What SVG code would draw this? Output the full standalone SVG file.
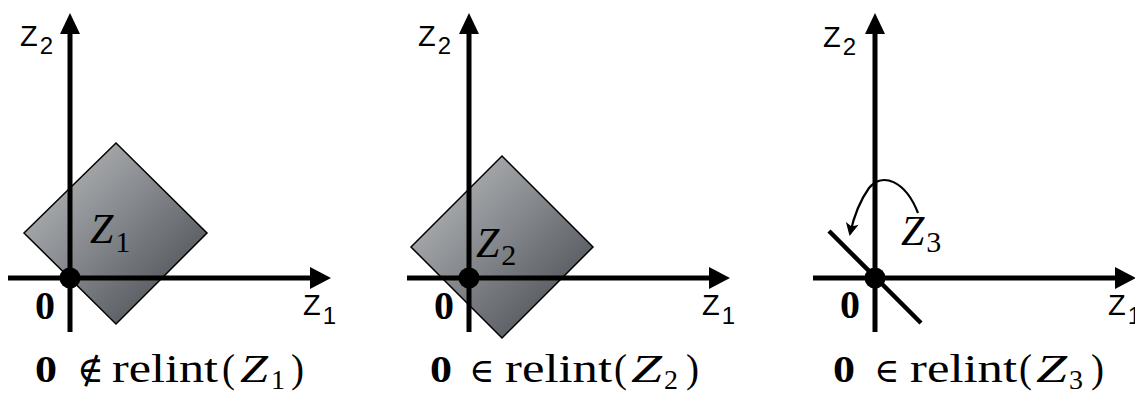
<svg xmlns="http://www.w3.org/2000/svg" width="1135" height="400" viewBox="0 0 1135 400">
<defs>
<linearGradient id="g" x1="0" y1="0" x2="1" y2="1">
<stop offset="0" stop-color="#c2c4c6"/>
<stop offset="1" stop-color="#3e4249"/>
</linearGradient>
<marker id="ah" viewBox="0 0 12 12" refX="10" refY="6" markerWidth="14" markerHeight="13" markerUnits="userSpaceOnUse" orient="auto">
<path d="M0,0 L12,6 L0,12 L3,6 z" fill="#000"/>
</marker>
</defs>
<style>
.ax{stroke:#000;stroke-width:5;fill:none}
.tip{fill:#000}
.dia{fill:url(#g);stroke:#000;stroke-width:1.5}
.sans{font-family:"Liberation Sans","DejaVu Sans",sans-serif;fill:#000}
.ser{font-family:"Liberation Serif","DejaVu Serif",serif;fill:#000}
.b{font-weight:bold}
.it{font-style:italic}
.dot{fill:#000}
</style>

<!-- Panel 1 -->
<g id="panel1">
<polygon id="set1" class="dia" points="116,143 207,233 116,324 24,233"/>
<g id="axes1">
<line class="ax" x1="70" y1="332" x2="70" y2="30"/>
<polygon class="tip" points="70,13 60,34 80,34"/>
<line class="ax" x1="8" y1="278" x2="312" y2="278"/>
<polygon class="tip" points="331,278 310,267 310,289"/>
</g>
<circle id="origin1" class="dot" cx="70" cy="278" r="10.5"/>
<text class="sans" x="20" y="46" font-size="29">Z<tspan font-size="24" dx="2" dy="8">2</tspan></text>
<text class="sans" x="303" y="315" font-size="29">Z<tspan font-size="24" dx="2" dy="9">1</tspan></text>
<text class="ser b" x="35" y="319" font-size="40">0</text>
<text class="ser" x="90" y="243" font-size="42"><tspan class="it">Z</tspan><tspan font-size="30" dx="2" dy="9">1</tspan></text>
<g id="caption1">
<text class="ser b" x="35" y="382" font-size="38" textLength="22" lengthAdjust="spacingAndGlyphs">0</text>
<text class="ser" x="77" y="382" font-size="36">∉</text>
<text class="ser" x="112" y="382" font-size="39" textLength="106" lengthAdjust="spacingAndGlyphs">relint</text>
<text class="ser" x="222" y="382" font-size="39">(</text>
<text class="ser it" x="240" y="382" font-size="39" textLength="28" lengthAdjust="spacingAndGlyphs">Z</text>
<text class="ser" x="271" y="389" font-size="28">1</text>
<text class="ser" x="291" y="382" font-size="39">)</text>
</g>
</g>

<!-- Panel 2 -->
<g id="panel2">
<polygon id="set2" class="dia" points="502,156 593,247 502,338 411,247"/>
<g id="axes2">
<line class="ax" x1="469" y1="332" x2="469" y2="30"/>
<polygon class="tip" points="469,13 459,34 479,34"/>
<line class="ax" x1="407" y1="278" x2="711" y2="278"/>
<polygon class="tip" points="730,278 709,267 709,289"/>
</g>
<circle id="origin2" class="dot" cx="469" cy="278" r="10.5"/>
<text class="sans" x="418" y="46" font-size="29">Z<tspan font-size="24" dx="2" dy="8">2</tspan></text>
<text class="sans" x="702" y="315" font-size="29">Z<tspan font-size="24" dx="2" dy="9">1</tspan></text>
<text class="ser b" x="434" y="319" font-size="40">0</text>
<text class="ser" x="476" y="257" font-size="42"><tspan class="it">Z</tspan><tspan font-size="30" dx="2" dy="8">2</tspan></text>
<g id="caption2">
<text class="ser b" x="430" y="382" font-size="38" textLength="22" lengthAdjust="spacingAndGlyphs">0</text>
<text class="ser" x="469" y="382" font-size="34">∈</text>
<text class="ser" x="505" y="382" font-size="39" textLength="107" lengthAdjust="spacingAndGlyphs">relint</text>
<text class="ser" x="614" y="382" font-size="39">(</text>
<text class="ser it" x="631" y="382" font-size="39" textLength="31" lengthAdjust="spacingAndGlyphs">Z</text>
<text class="ser" x="664" y="389" font-size="28">2</text>
<text class="ser" x="686" y="382" font-size="39">)</text>
</g>
</g>

<!-- Panel 3 -->
<g id="panel3">
<line id="set3" x1="829" y1="231" x2="921" y2="323" stroke="#000" stroke-width="4.5"/>
<g id="axes3">
<line class="ax" x1="875" y1="332" x2="875" y2="30"/>
<polygon class="tip" points="875,13 865,34 885,34"/>
<line class="ax" x1="813" y1="278" x2="1117" y2="278"/>
<polygon class="tip" points="1136,278 1115,267 1115,289"/>
</g>
<circle id="origin3" class="dot" cx="875" cy="278" r="10.5"/>
<text class="sans" x="823" y="47" font-size="29">Z<tspan font-size="24" dx="2" dy="8">2</tspan></text>
<text class="sans" x="1108" y="315" font-size="29">Z<tspan font-size="24" dx="2" dy="9">1</tspan></text>
<text class="ser b" x="840" y="318" font-size="40">0</text>
<text class="ser" x="901" y="245" font-size="42"><tspan class="it">Z</tspan><tspan font-size="30" dx="2" dy="7">3</tspan></text>
<g id="connectors">
<path d="M918,213 C905,180 882,172 869,188 C859,202 853,220 850,234" fill="none" stroke="#000" stroke-width="2.2" marker-end="url(#ah)"/>
</g>
<g id="caption3">
<text class="ser b" x="833" y="382" font-size="38" textLength="22" lengthAdjust="spacingAndGlyphs">0</text>
<text class="ser" x="874" y="382" font-size="34">∈</text>
<text class="ser" x="910" y="382" font-size="39" textLength="107" lengthAdjust="spacingAndGlyphs">relint</text>
<text class="ser" x="1019" y="382" font-size="39">(</text>
<text class="ser it" x="1036" y="382" font-size="39" textLength="31" lengthAdjust="spacingAndGlyphs">Z</text>
<text class="ser" x="1069" y="389" font-size="28">3</text>
<text class="ser" x="1091" y="382" font-size="39">)</text>
</g>
</g>
</svg>
